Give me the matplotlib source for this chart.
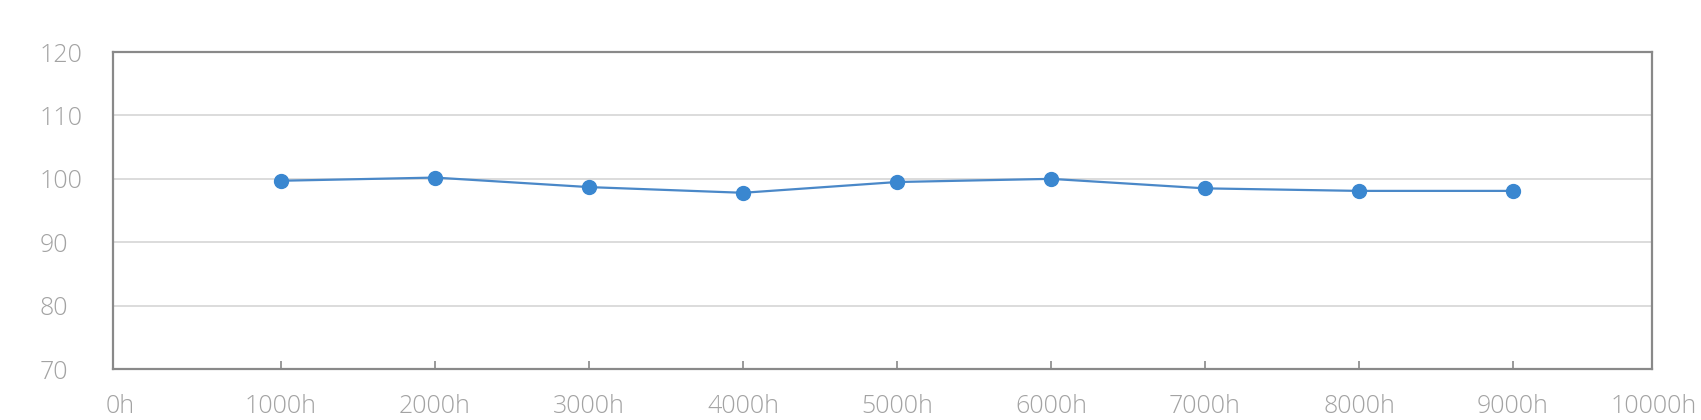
import matplotlib.pyplot as plt

hours = [1000, 2000, 3000, 4000, 5000, 6000, 7000, 8000, 9000]
values = [99.7, 100.2, 98.7, 97.8, 99.5, 100.0, 98.5, 98.1, 98.1]
x_labels = ['0h', '1000h', '2000h', '3000h', '4000h', '5000h',
            '6000h', '7000h', '8000h', '9000h', '10000h']
y_ticks = [70, 80, 90, 100, 110, 120]

plt.rcParams['font.family'] = ['Open Sans', 'DejaVu Sans']
label_color = '#a3a3a3'
fs = 18
xpad = 18

fig = plt.figure(figsize=(17.01, 4.2), dpi=100)
ax = fig.add_axes([0.0664, 0.1214, 0.9048, 0.7546])

ax.plot(hours, values, color='#4a88c8', linewidth=1.6, marker='o',
        markersize=10, markerfacecolor='#3a87d0', markeredgecolor='#3a87d0',
        zorder=3)

ax.set_ylim(70, 120)
ax.set_yticks(y_ticks)
ax.yaxis.grid(True, color='#d9d9d9', linewidth=1.3)
ax.set_axisbelow(True)

ax.set_xlim(-91, 9903)
ax.set_xticks(hours)
ax.set_xticklabels(x_labels[1:-1])

# 0h and 10000h sit at the ends of the axis
for frac, txt in [(0.0045, x_labels[0]), (1.0013, x_labels[-1])]:
    ax.annotate(txt, xy=(frac, 0), xycoords='axes fraction',
                xytext=(0, -xpad), textcoords='offset points',
                ha='center', va='top', fontsize=fs, color=label_color,
                fontweight='light', annotation_clip=False)

ax.tick_params(axis='x', direction='in', length=6, width=1.2, color='#898989',
               pad=xpad, labelsize=fs, labelcolor=label_color)
ax.tick_params(axis='y', length=0, pad=53, labelsize=fs,
               labelcolor=label_color)
for lbl in ax.get_yticklabels():
    lbl.set_horizontalalignment('left')
for lbl in ax.get_xticklabels() + ax.get_yticklabels():
    lbl.set_fontweight('light')

for side in ['left', 'right', 'top', 'bottom']:
    ax.spines[side].set_color('#898989')
    ax.spines[side].set_linewidth(1.6)

fig.savefig('out.png', dpi=100)
